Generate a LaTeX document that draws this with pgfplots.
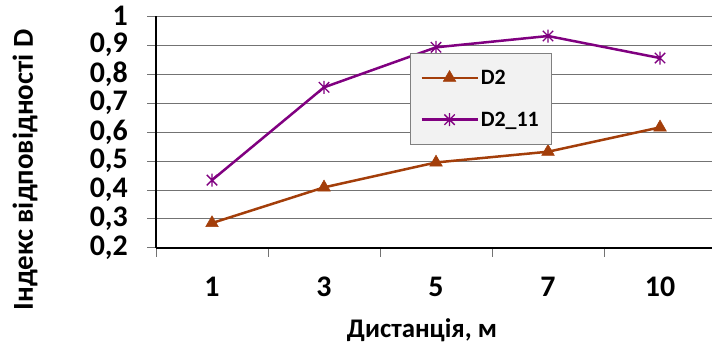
\documentclass[border=0pt]{standalone}
\usepackage{fontspec}
\setmainfont{Carlito}
\usepackage{pgfplots}
\pgfplotsset{compat=1.18}
\definecolor{cD}{RGB}{163,62,10}
\definecolor{cP}{RGB}{128,0,128}
\definecolor{gridc}{RGB}{115,115,115}
\pgfdeclareplotmark{xstar}{%
  \pgfpathmoveto{\pgfqpoint{0pt}{\pgfplotmarksize}}%
  \pgfpathlineto{\pgfqpoint{0pt}{-\pgfplotmarksize}}%
  \pgfpathmoveto{\pgfqpoint{-0.8\pgfplotmarksize}{0.8\pgfplotmarksize}}%
  \pgfpathlineto{\pgfqpoint{0.8\pgfplotmarksize}{-0.8\pgfplotmarksize}}%
  \pgfpathmoveto{\pgfqpoint{-0.8\pgfplotmarksize}{-0.8\pgfplotmarksize}}%
  \pgfpathlineto{\pgfqpoint{0.8\pgfplotmarksize}{0.8\pgfplotmarksize}}%
  \pgfusepathqstroke}
\begin{document}
\begin{tikzpicture}
\useasboundingbox (0bp,0bp) rectangle (712bp,351bp);
\begin{axis}[
  at={(156bp,103bp)}, anchor=south west,
  scale only axis, width=556bp, height=232bp,
  xmin=-0.5, xmax=4.464, ymin=0.2, ymax=1,
  axis x line*=bottom, axis y line*=left,
  axis line style={-, line width=2bp, black},
  ytick={0.2,0.3,0.4,0.5,0.6,0.7,0.8,0.9,1},
  ymajorgrids, grid style={gridc, line width=1bp},
  xtick={-0.5,0.5,1.5,2.5,3.5,4.5}, xticklabels={},
  extra x ticks={0,1,2,3,4}, extra x tick labels={1,3,5,7,10},
  extra x tick style={major tick length=0pt, grid=none},
  tick align=outside, major tick length=9bp,
  tick style={gridc, line width=1bp},
  /pgf/number format/use comma,
  /pgf/number format/assume math mode=true,
  tick label style={font=\fontsize{30}{32}\selectfont\bfseries},
  yticklabel style={anchor=east, inner sep=0pt, xshift=-19bp},
  xticklabel style={anchor=center, inner sep=0pt, yshift=-39bp},
  legend style={at={(0.457,0.842)}, anchor=north west,
    fill={rgb,255:red,242;green,242;blue,242}, draw=gray,
    font=\fontsize{22}{24}\selectfont\bfseries,
    inner xsep=10bp, inner ysep=15bp, row sep=22bp},
  legend cell align=left,
  legend image code/.code={\draw[mark repeat=2,mark phase=2,#1] plot coordinates {(0bp,0bp) (28bp,0bp) (56bp,0bp)};},
]
\addplot[cD, line width=2.5bp, mark=triangle*, mark size=7.3bp, mark options={line width=0.5bp}]
  coordinates {(0,0.286) (1,0.409) (2,0.495) (3,0.532) (4,0.616)};
\addlegendentry{D2}
\addplot[cP, line width=2.5bp, mark=xstar, mark size=6.5bp, mark options={line width=1.3bp}]
  coordinates {(0,0.434) (1,0.754) (2,0.892) (3,0.931) (4,0.855)};
\addlegendentry{D2\_11}
\end{axis}
\node[rotate=90, font=\fontsize{29}{31}\selectfont\bfseries, inner sep=0pt] at (25bp,181bp) {Індекс відповідності D};
\node[font=\fontsize{27}{29}\selectfont\bfseries, inner sep=0pt, anchor=base] at (422bp,14bp) {Дистанція, м};
\end{tikzpicture}
\end{document}
